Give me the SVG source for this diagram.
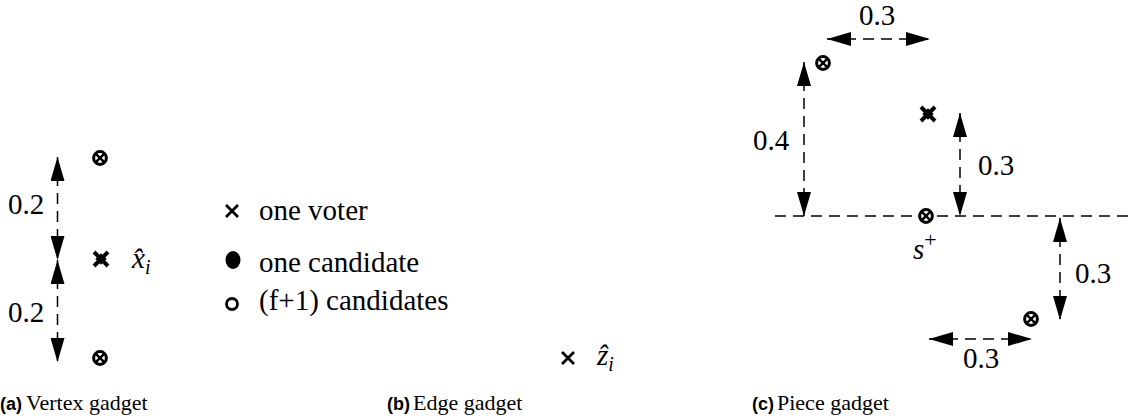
<svg xmlns="http://www.w3.org/2000/svg" width="1130" height="418" viewBox="0 0 1130 418">
<style>
.dash{stroke:#000;stroke-width:1.5;stroke-dasharray:11 7;fill:none}
.arr{marker-start:url(#ah);marker-end:url(#ah)}
text{fill:#000}
.t{font-size:29px}
.it{font-style:italic}
.sub{font-size:20px;font-style:italic}
.sup{font-size:22px}
.cap{font-size:22px}
.capb{font-size:18px;font-weight:bold}
.ring{fill:#fff;stroke:#000;stroke-width:3}
.xl{stroke:#000;stroke-width:2.4;fill:none}
.vx{stroke:#000;stroke-width:2.8;fill:none}
.star{stroke:#000;stroke-width:4;fill:none}
</style>
<defs>
<marker id="ah" viewBox="0 0 24 14" refX="24" refY="7" markerWidth="24" markerHeight="14" markerUnits="userSpaceOnUse" orient="auto-start-reverse">
<path d="M0,0 L24,7 L0,14 z" fill="#000"/>
</marker>
<g id="otimes"><circle r="6.4" class="ring"/><path d="M-4.2,-4.2 L4.2,4.2 M-4.2,4.2 L4.2,-4.2" class="xl"/></g>
<g id="starx"><path d="M-7,-7 L7,7 M-7,7 L7,-7" class="star"/><rect x="-4" y="-4" width="8" height="8" fill="#000" transform="rotate(45)"/></g>
</defs>

<g id="connectors">
<line x1="57.5" y1="157" x2="57.5" y2="260" class="dash arr"/>
<line x1="57.5" y1="260" x2="57.5" y2="362" class="dash arr"/>
<line x1="775" y1="216" x2="1130" y2="216" class="dash"/>
<line x1="827" y1="39" x2="930" y2="39" class="dash arr"/>
<line x1="804" y1="62" x2="804" y2="216" class="dash arr"/>
<line x1="960" y1="113" x2="960" y2="216" class="dash arr"/>
<line x1="1060" y1="218" x2="1060" y2="320" class="dash arr"/>
<line x1="929" y1="339" x2="1032" y2="339" class="dash arr"/>
</g>

<g font-family="'Liberation Serif', 'Times New Roman', serif">
<g id="labels">
<text x="8" y="214" class="t">0.2</text>
<text x="8" y="322" class="t">0.2</text>
<text x="859" y="25" class="t">0.3</text>
<text x="753" y="150" class="t">0.4</text>
<text x="978" y="175" class="t">0.3</text>
<text x="1075" y="283" class="t">0.3</text>
<text x="963" y="368" class="t">0.3</text>
</g>

<g id="node-a-top"><use href="#otimes" x="100" y="158"/></g>
<g id="node-a-mid"><use href="#starx" x="101" y="259"/>
<text x="132" y="268" class="t it">x̂<tspan class="sub" dy="6">i</tspan></text></g>
<g id="node-a-bot"><use href="#otimes" x="100" y="358"/></g>

<g id="legend">
<path d="M226,205 L238,217 M226,217 L238,205" class="vx"/>
<text x="259" y="220" class="t">one voter</text>
<ellipse cx="233" cy="260" rx="7.5" ry="9" fill="#000"/>
<text x="259" y="272" class="t">one candidate</text>
<circle cx="232" cy="304" r="5.5" fill="none" stroke="#000" stroke-width="2.8"/>
<text x="259" y="310" class="t">(f+1) candidates</text>
</g>

<g id="node-b-z"><path d="M562,352 L574,364 M562,364 L574,352" class="vx"/>
<text x="597" y="365" class="t it">ẑ<tspan class="sub" dy="6">i</tspan></text></g>

<g id="node-c-top"><use href="#otimes" x="823" y="63"/></g>
<g id="node-c-star"><use href="#starx" x="928" y="114"/></g>
<g id="node-c-s"><use href="#otimes" x="926" y="216"/>
<text x="913" y="259" class="t it">s<tspan class="sup" dy="-12" font-style="normal">+</tspan></text></g>
<g id="node-c-bot"><use href="#otimes" x="1031" y="319"/></g>

<g id="captions">
<text x="0" y="410" class="capb" font-family="'Liberation Sans', Arial, sans-serif">(a)</text><text x="26" y="410" class="cap">Vertex gadget</text>
<text x="387" y="410" class="capb" font-family="'Liberation Sans', Arial, sans-serif">(b)</text><text x="413" y="410" class="cap">Edge gadget</text>
<text x="752" y="410" class="capb" font-family="'Liberation Sans', Arial, sans-serif">(c)</text><text x="777" y="410" class="cap">Piece gadget</text>
</g>
</g>
</svg>
